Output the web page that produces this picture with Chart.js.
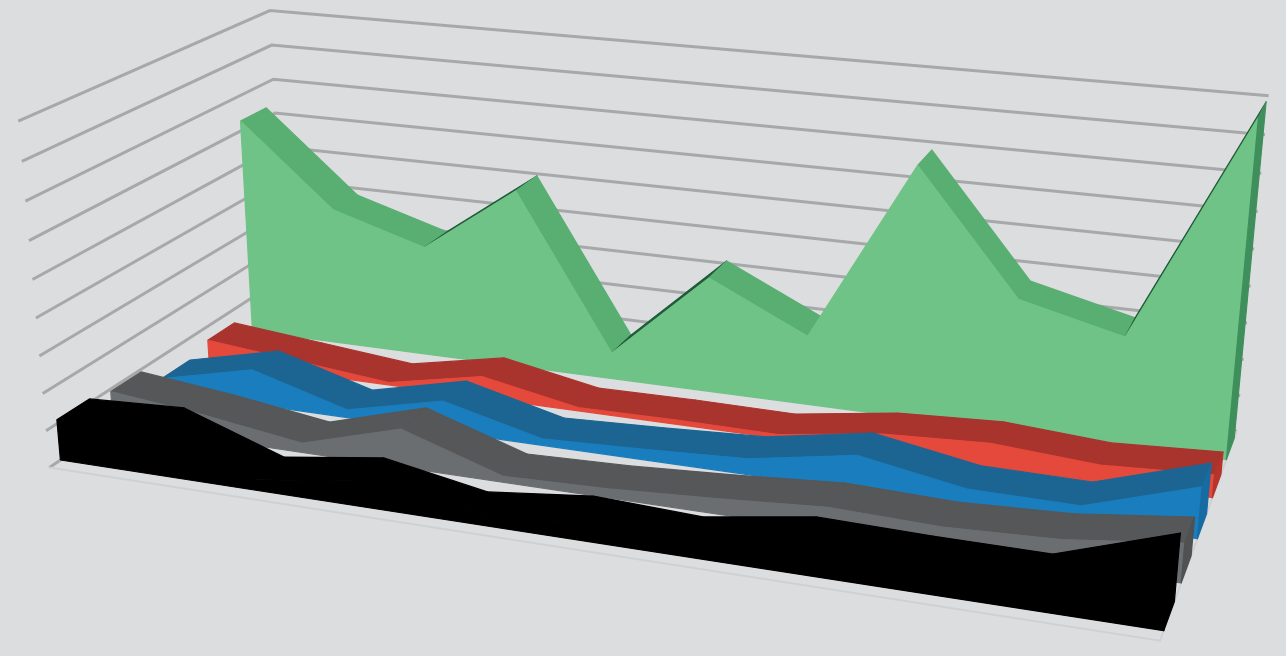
<!DOCTYPE html>
<html><head><meta charset="utf-8">
<style>html,body{margin:0;padding:0;background:#dcdddf}canvas{display:block}</style>
<script src="https://cdn.jsdelivr.net/npm/chart.js@4/dist/chart.umd.min.js"></script>
</head><body><canvas id="c" width="1286" height="656"></canvas>
<script>
// ---- data ----
const categories=[1,2,3,4,5,6,7,8,9,10,11];
const valueTicks=[0,1,2,3,4,5,6,7,8,9];
const seriesGreen=[6.28,3.97,3.17,5.10,0.75,3.25,1.94,6.93,3.65,2.97,8.97];
const seriesRed=[0.60,0.34,0.07,0.61,0.09,0.12,0.10,0.51,0.65,0.46,0.61];
const seriesBlue=[0.37,0.99,0.22,0.85,0.18,0.29,0.43,0.93,0.44,0.42,1.33];
const seriesGray=[0.93,0.64,0.26,1.04,0.16,0.24,0.40,0.60,0.52,0.64,0.99];
const seriesBlack=[1.10,1.23,0.28,0.66,0.16,0.47,0.35,0.78,0.73,0.72,1.68];

// ---- 3D camera (category, value, depth -> page) ----
const cam=[946.4396,-3.562382,286.9408,49.36497,82.63402,-39.17356,-102.9506,467.3892,-0.1415591,-0.005702645,0.1787089];
function project(cx,v,z){
  const w=cam[8]*cx+cam[9]*v+cam[10]*z+1;
  return {x:(cam[0]*cx+cam[1]*v+cam[2]*z+cam[3])/w,y:(cam[4]*cx+cam[5]*v+cam[6]*z+cam[7])/w};
}
const layers=[
 {values:seriesGreen,slot:4,face:'#6fc387',top:'#59ae72',side:'#3f8f5c',under:'#1f5a38'},
 {values:seriesRed,slot:3,face:'#e4493c',top:'#a9342d',side:'#b5342c',under:'#7a241f'},
 {values:seriesBlue,slot:2,face:'#1a7dbd',top:'#1c6593',side:'#176ba3',under:'#124a6c'},
 {values:seriesGray,slot:1,face:'#6b6e70',top:'#555759',side:'#4f5153',under:'#3d3f40'},
 {values:seriesBlack,slot:0,face:'#000000',top:'#000000',side:'#000000',under:'#000000'}
];
const datasets=[];
function line(data,color,width){datasets.push({data,showLine:true,fill:false,borderColor:color,borderWidth:width,pointRadius:0,tension:0,borderJoinStyle:'miter'});}
function poly(data,color){datasets.push({data:[...data,data[0]],showLine:true,fill:'shape',backgroundColor:color,borderColor:color,borderWidth:1.2,pointRadius:0,tension:0,borderJoinStyle:'round'});}
const last=categories.length-1;
valueTicks.forEach(v=>line([project(0,v,0),project(0,v,1),project(1,v,1)],'#a7a8aa',3));
line([project(0,0,0),project(1,0,0),project(1,0,1)],'#cfd0d2',2);
layers.forEach(s=>{
  const z0=s.slot*0.2+0.04,z1=s.slot*0.2+0.16;
  const cx=i=>i/last;
  for(let i=0;i<last;i++){
    const q=[project(cx(i),s.values[i],z0),project(cx(i+1),s.values[i+1],z0),project(cx(i+1),s.values[i+1],z1),project(cx(i),s.values[i],z1)];
    let a=0;q.forEach((p,k)=>{const n=q[(k+1)%4];a+=p.x*n.y-n.x*p.y;});
    if(a>=0) continue;                               // band faces away from the viewer
    const thickness=-a/2/Math.hypot(q[1].x-q[0].x,q[1].y-q[0].y);
    poly(q,thickness<3.5?s.under:s.top);             // nearly edge-on bands read as a dark line
  }
  const front=s.values.map((v,i)=>project(cx(i),v,z0));
  poly([project(0,0,z0),...front,project(1,0,z0)],s.face);
  poly([project(1,s.values[last],z0),project(1,s.values[last],z1),project(1,0,z1),project(1,0,z0)],s.side);
});
datasets.forEach((d,i)=>{d.order=datasets.length-i;d.clip=false;});
new Chart(document.getElementById('c'),{type:'scatter',data:{datasets},options:{
  responsive:false,animation:false,events:[],
  layout:{padding:0},
  plugins:{legend:{display:false},tooltip:{enabled:false},title:{display:false},filler:{propagate:false}},
  scales:{x:{type:'linear',min:0,max:1286,display:false},y:{type:'linear',min:0,max:656,reverse:true,display:false}}
}});
</script></body></html>
